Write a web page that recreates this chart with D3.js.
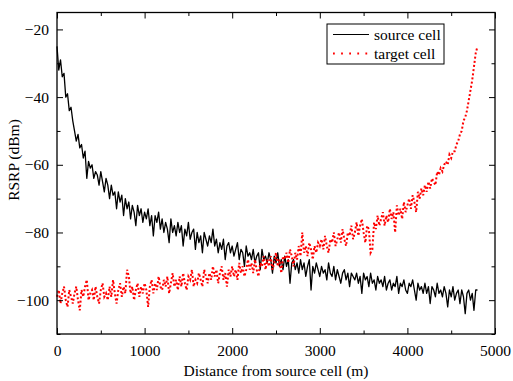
<!DOCTYPE html>
<html><head><meta charset="utf-8">
<script src="https://cdn.jsdelivr.net/npm/d3@7"></script>
<style>body{margin:0;background:#fff}svg{display:block}</style>
</head><body>
<svg id="c" width="513" height="381"></svg>
<script>
const distance = [
0,20,40,60,80,100,120,140,160,180,
200,220,240,260,280,300,320,340,360,380,
400,420,440,460,480,500,520,540,560,580,
600,620,640,660,680,700,720,740,760,780,
800,820,840,860,880,900,920,940,960,980,
1000,1020,1040,1060,1080,1100,1120,1140,1160,1180,
1200,1220,1240,1260,1280,1300,1320,1340,1360,1380,
1400,1420,1440,1460,1480,1500,1520,1540,1560,1580,
1600,1620,1640,1660,1680,1700,1720,1740,1760,1780,
1800,1820,1840,1860,1880,1900,1920,1940,1960,1980,
2000,2020,2040,2060,2080,2100,2120,2140,2160,2180,
2200,2220,2240,2260,2280,2300,2320,2340,2360,2380,
2400,2420,2440,2460,2480,2500,2520,2540,2560,2580,
2600,2620,2640,2660,2680,2700,2720,2740,2760,2780,
2800,2820,2840,2860,2880,2900,2920,2940,2960,2980,
3000,3020,3040,3060,3080,3100,3120,3140,3160,3180,
3200,3220,3240,3260,3280,3300,3320,3340,3360,3380,
3400,3420,3440,3460,3480,3500,3520,3540,3560,3580,
3600,3620,3640,3660,3680,3700,3720,3740,3760,3780,
3800,3820,3840,3860,3880,3900,3920,3940,3960,3980,
4000,4020,4040,4060,4080,4100,4120,4140,4160,4180,
4200,4220,4240,4260,4280,4300,4320,4340,4360,4380,
4400,4420,4440,4460,4480,4500,4520,4540,4560,4580,
4600,4620,4640,4660,4680,4700,4720,4740,4760,4780,
4800];
const sourceCell = [
-25,-32,-29,-34,-33,-40,-39,-44,-43,-47,
-50,-53,-51,-55,-54,-58,-56,-64,-59,-61,
-60,-64,-62,-63,-66,-62,-65,-68,-64,-66,
-70,-66,-69,-68,-73,-68,-71,-69,-75,-70,
-73,-71,-76,-72,-74,-78,-72,-75,-73,-77,
-74,-76,-73,-78,-75,-81,-75,-77,-74,-79,
-76,-80,-77,-79,-83,-76,-80,-78,-81,-77,
-80,-78,-84,-79,-81,-77,-82,-80,-79,-85,
-80,-83,-81,-86,-80,-82,-84,-81,-83,-79,
-84,-82,-86,-83,-85,-82,-88,-84,-83,-86,
-84,-87,-85,-83,-88,-85,-86,-90,-84,-87,
-86,-88,-85,-89,-87,-86,-91,-85,-88,-87,
-89,-86,-88,-92,-87,-89,-86,-90,-88,-91,
-87,-90,-88,-95,-89,-88,-91,-89,-92,-88,
-91,-89,-93,-90,-88,-97,-90,-92,-89,-91,
-93,-90,-92,-91,-94,-89,-92,-93,-90,-94,
-91,-93,-95,-92,-91,-94,-92,-96,-92,-93,
-94,-92,-95,-93,-98,-92,-94,-93,-96,-92,
-95,-94,-97,-93,-95,-94,-96,-93,-97,-95,
-94,-97,-95,-96,-93,-98,-95,-96,-94,-97,
-98,-95,-96,-94,-97,-100,-95,-97,-96,-98,
-95,-98,-96,-101,-96,-97,-99,-95,-98,-97,
-99,-96,-98,-102,-97,-99,-96,-100,-98,-97,
-101,-97,-99,-104,-98,-97,-100,-98,-103,-97,
-97];
const targetCell = [
-99,-97,-101,-98,-96,-100,-102,-97,-99,-101,
-98,-96,-100,-103,-97,-99,-96,-94,-100,-98,
-97,-100,-96,-99,-101,-97,-95,-99,-98,-100,
-96,-99,-94,-98,-101,-97,-95,-99,-96,-98,
-91,-93,-98,-96,-100,-97,-95,-99,-96,-98,
-95,-97,-102,-96,-94,-98,-95,-97,-93,-96,
-97,-94,-96,-93,-98,-95,-92,-96,-94,-97,
-93,-96,-92,-95,-97,-93,-94,-91,-96,-94,
-95,-92,-94,-96,-91,-93,-95,-92,-94,-90,
-93,-91,-95,-92,-90,-94,-92,-96,-91,-93,
-90,-93,-91,-94,-89,-92,-90,-93,-91,-88,
-91,-89,-92,-88,-91,-93,-89,-90,-87,-91,
-88,-90,-87,-91,-89,-86,-90,-88,-92,-87,
-88,-86,-89,-85,-87,-90,-86,-88,-84,-87,
-80,-86,-84,-87,-83,-85,-88,-84,-86,-83,
-84,-82,-85,-81,-84,-86,-82,-83,-80,-84,
-82,-80,-83,-79,-82,-84,-80,-81,-78,-82,
-80,-77,-81,-78,-76,-80,-83,-78,-79,-86,
-85,-77,-79,-75,-78,-76,-74,-78,-75,-77,
-73,-76,-74,-80,-72,-75,-73,-76,-71,-74,
-72,-70,-73,-69,-71,-74,-68,-70,-67,-69,
-66,-68,-65,-67,-64,-65,-66,-62,-63,-61,
-62,-60,-59,-60,-57,-58,-56,-56,-54,-53,
-51,-50,-47,-46,-44,-41,-38,-35,-31,-27,
-25];
const xTickValues = [0,1000,2000,3000,4000,5000];
const xMinorTicks = [500,1500,2500,3500,4500];
const yTickValues = [-100,-80,-60,-40,-20];
const yMinorTicks = [-110,-90,-70,-50,-30];
const seriesNames = ["source cell","target cell"];
const axisTitles = {x:"Distance from source cell (m)", y:"RSRP (dBm)"};

const svg = d3.select("#c");
const L=57, R=495, T=12.5, B=334;
const x = d3.scaleLinear().domain([0,5000]).range([L,R]);
const y = d3.scaleLinear().domain([-110,-15]).range([B,T]);
const font = "'Liberation Serif','Times New Roman',serif";

// data
const pts = (vals)=>distance.map((d,i)=>[d,vals[i]]);
const line = d3.line().x(d=>x(d[0])).y(d=>y(d[1]));
svg.append("path").attr("d",line(pts(sourceCell))).attr("fill","none")
  .attr("stroke","#000").attr("stroke-width",1.3).attr("stroke-linejoin","round");
svg.append("path").attr("d",line(pts(targetCell))).attr("fill","none")
  .attr("stroke","#ff0000").attr("stroke-width",2).attr("stroke-dasharray","2,2.2");

// axes
function styleAxis(g){ g.select(".domain").remove(); g.selectAll("line").attr("stroke","#000").attr("stroke-width",1);
  g.selectAll("text").attr("font-family",font).attr("font-size","15.5px").attr("fill","#000"); }
svg.append("g").attr("transform",`translate(0,${B})`)
  .call(d3.axisBottom(x).tickValues(xTickValues).tickSize(-6).tickPadding(11).tickFormat(d3.format("d"))).call(styleAxis);
svg.append("g").attr("transform",`translate(0,${B})`)
  .call(d3.axisBottom(x).tickValues(xMinorTicks).tickSize(-3.5).tickFormat("")).call(styleAxis);
svg.append("g").attr("transform",`translate(0,${T})`)
  .call(d3.axisTop(x).tickValues(xTickValues).tickSize(-6).tickFormat("")).call(styleAxis);
svg.append("g").attr("transform",`translate(0,${T})`)
  .call(d3.axisTop(x).tickValues(xMinorTicks).tickSize(-3.5).tickFormat("")).call(styleAxis);
svg.append("g").attr("transform",`translate(${L},0)`)
  .call(d3.axisLeft(y).tickValues(yTickValues).tickSize(-6).tickPadding(8).tickFormat(d3.format("d"))).call(styleAxis);
svg.append("g").attr("transform",`translate(${L},0)`)
  .call(d3.axisLeft(y).tickValues(yMinorTicks).tickSize(-3.5).tickFormat("")).call(styleAxis);
svg.append("g").attr("transform",`translate(${R},0)`)
  .call(d3.axisRight(y).tickValues(yTickValues).tickSize(-6).tickFormat("")).call(styleAxis);
svg.append("g").attr("transform",`translate(${R},0)`)
  .call(d3.axisRight(y).tickValues(yMinorTicks).tickSize(-3.5).tickFormat("")).call(styleAxis);

svg.append("rect").attr("x",L).attr("y",T).attr("width",R-L).attr("height",B-T)
  .attr("fill","none").attr("stroke","#000").attr("stroke-width",1.3);

// titles
svg.append("text").attr("x",(L+R)/2).attr("y",376).attr("text-anchor","middle")
  .attr("font-family",font).attr("font-size","15.5px").text(axisTitles.x);
svg.append("text").attr("transform",`translate(19,160) rotate(-90)`).attr("text-anchor","middle")
  .attr("font-family",font).attr("font-size","15.5px").text(axisTitles.y);

// legend
const lg = svg.append("g");
lg.append("rect").attr("x",327).attr("y",24).attr("width",117).attr("height",40)
  .attr("fill","#fff").attr("stroke","#000").attr("stroke-width",1);
lg.append("line").attr("x1",333).attr("x2",369).attr("y1",34.5).attr("y2",34.5).attr("stroke","#000").attr("stroke-width",1.2);
lg.append("line").attr("x1",333).attr("x2",369).attr("y1",53.5).attr("y2",53.5).attr("stroke","#ff0000").attr("stroke-width",1.8).attr("stroke-dasharray","1.8,6.3");
lg.selectAll("text.l").data(seriesNames).enter().append("text").attr("x",374).attr("y",(d,i)=>40+i*18.5)
  .attr("font-family",font).attr("font-size","15.5px").text(d=>d);
</script>
</body></html>
